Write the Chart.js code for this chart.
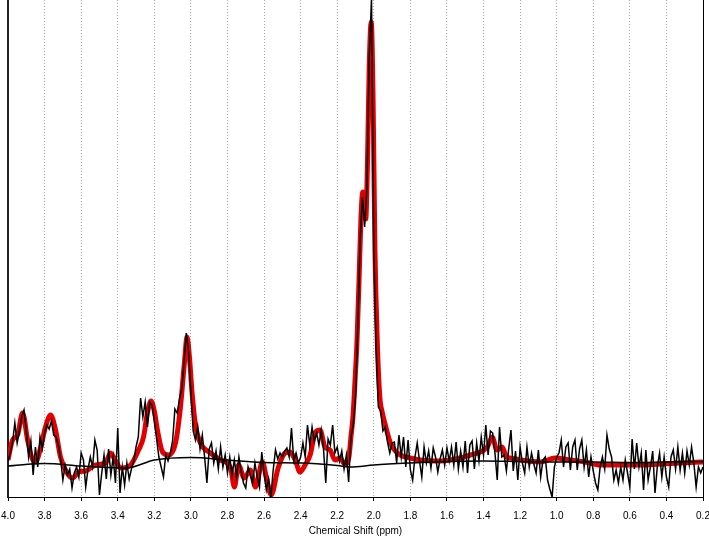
<!DOCTYPE html>
<html>
<head>
<meta charset="utf-8">
<title>MR spectrum</title>
<script src="https://cdn.jsdelivr.net/npm/chart.js@4"></script>
<style>
  html, body { margin: 0; padding: 0; background: #fff; }
  #chart { display: block; }
</style>
</head>
<body>
<canvas id="chart" width="709" height="538"></canvas>
<script>
// acquisition grid of the measured spectrum (ppm)
const spectrumStartPpm = 4.0;
const spectrumStepPpm = 0.0125;

// measured spectrum, one row per 0.2 ppm
const spectrum = [
  36, 44, 55, 74, 54, 66, 80, 87, 66, 40, 56, 22, 50, 30, 60, 48, 64, // 4.0 - 3.8
  72, 68, 76, 62, 60, 52, 38, 17, 32, 22, 28, 9, 24, 30, 20, 44,      // 3.8 - 3.6
  37, 10, 28, 40, 30, 57, 47, 2, 24, 42, 18, 48, 22, 40, 14, 69,      // 3.6 - 3.4
  4, 30, 12, 34, 18, 28, 36, 50, 60, 99, 80, 95, 70, 95, 92, 76,      // 3.4 - 3.2
  58, 40, 30, 20, 42, 36, 44, 56, 88, 84, 98, 108, 135, 164, 145, 105, // 3.2 - 3.0
  66, 57, 70, 48, 62, 40, 14, 48, 54, 34, 46, 28, 50, 30, 42, 24,     // 3.0 - 2.8
  40, 22, 37, 20, 40, 26, 14, 9, 30, 22, 14, 34, 20, 10, 45, 24,      // 2.8 - 2.6
  7, 18, 0, 27, 47, 38, 44, 40, 46, 49, 40, 69, 36, 44, 34, 40,       // 2.6 - 2.4
  54, 40, 72, 52, 70, 56, 64, 52, 67, 48, 14, 58, 52, 72, 44, 50,     // 2.4 - 2.2
  36, 46, 28, 42, 15, 60, 72, 100, 170, 255, 300, 270, 310, 440, 498, 250, // 2.2 - 2.0
  150, 90, 86, 66, 70, 55, 44, 54, 55, 34, 62, 40, 60, 30, 57, 27,    // 2.0 - 1.8
  17, 40, 54, 36, 20, 50, 34, 46, 29, 49, 40, 25, 38, 47, 32, 49,     // 1.8 - 1.6
  36, 50, 32, 55, 28, 46, 30, 56, 24, 52, 56, 28, 54, 36, 60, 42,     // 1.6 - 1.4
  72, 42, 66, 64, 44, 17, 70, 40, 42, 26, 48, 67, 26, 46, 17, 50,     // 1.4 - 1.2
  34, 24, 50, 30, 44, 33, 24, 47, 20, 37, 40, 17, 8, 0, 30, 40,       // 1.2 - 1.0
  44, 57, 30, 50, 54, 27, 50, 57, 27, 48, 57, 30, 47, 20, 40, 26,     // 1.0 - 0.8
  14, 7, 30, 40, 28, 62, 48, 40, 17, 27, 14, 30, 17, 37, 24, 10,      // 0.8 - 0.6
  58, 28, 54, 30, 44, 7, 47, 17, 30, 46, 4, 30, 44, 20, 40, 20,       // 0.6 - 0.4
  10, 40, 47, 28, 50, 27, 44, 24, 46, 32, 50, 34, 10, 30, 24, 30      // 0.4 - 0.2
];

// fitted model
const fitPpm = [
  4.000, 3.975, 3.948, 3.920, 3.893, 3.871, 3.849, 3.822, 3.795, 3.767,
  3.740, 3.713, 3.680, 3.647, 3.614, 3.576, 3.521, 3.467, 3.439, 3.412,
  3.385, 3.330, 3.286, 3.259, 3.237, 3.218, 3.199, 3.183, 3.155, 3.122,
  3.084, 3.057, 3.035, 3.021, 3.008, 2.994, 2.975, 2.948, 2.893, 2.838,
  2.783, 2.762, 2.740, 2.708, 2.675, 2.647, 2.609, 2.587, 2.561, 2.523,
  2.485, 2.458, 2.430, 2.403, 2.376, 2.348, 2.321, 2.294, 2.267, 2.239,
  2.212, 2.185, 2.158, 2.136, 2.125, 2.114, 2.103, 2.092, 2.081, 2.070,
  2.060, 2.051, 2.044, 2.035, 2.025, 2.014, 2.004, 1.994, 1.980, 1.967,
  1.953, 1.937, 1.909, 1.882, 1.855, 1.800, 1.745, 1.636, 1.527, 1.473,
  1.418, 1.379, 1.353, 1.326, 1.298, 1.275, 1.254, 1.199, 1.090, 1.008,
  0.926, 0.844, 0.762, 0.653, 0.543, 0.434, 0.325, 0.200
];
const fitIntensity = [
  37, 57, 62, 84, 57, 40, 35, 49, 70, 82,
  67, 40, 25, 19, 25, 26, 32, 34, 44, 36,
  29, 32, 47, 60, 85, 96, 85, 67, 45, 42,
  54, 90, 135, 160, 140, 105, 72, 54, 44, 37,
  29, 10, 32, 19, 27, 10, 35, 19, 2, 29,
  44, 45, 37, 25, 32, 42, 64, 67, 50, 47,
  37, 39, 33, 40, 60, 80, 115, 155, 215, 280,
  305, 285, 278, 330, 430, 475, 400, 250, 150, 100,
  84, 72, 54, 46, 42, 39, 37, 36, 39, 42,
  45, 50, 60, 47, 50, 40, 39, 37, 35, 39,
  37, 35, 32, 32, 32, 33, 34, 35
];

// baseline
const baselinePpm = [4.0, 3.8, 3.6, 3.45, 3.35, 3.2, 3.0, 2.8, 2.6, 2.4, 2.2, 2.13, 2.0, 1.8, 1.6, 1.4, 1.2, 1.0, 0.8, 0.6, 0.4, 0.2];
const baselineIntensity = [31, 33.5, 31, 29.5, 29, 37, 39.5, 37, 34.5, 34, 31.5, 30, 32, 34, 35.5, 36, 35.5, 35, 35, 34.5, 35, 35.5];

// axis ticks
const ppmTicks = [4.0, 3.8, 3.6, 3.4, 3.2, 3.0, 2.8, 2.6, 2.4, 2.2, 2.0, 1.8, 1.6, 1.4, 1.2, 1.0, 0.8, 0.6, 0.4, 0.2];

const spectrumPoints = spectrum.map((v, i) => ({ x: spectrumStartPpm - i * spectrumStepPpm, y: v }));
const fitPoints = fitPpm.map((p, i) => ({ x: p, y: fitIntensity[i] }));
const baselinePoints = baselinePpm.map((p, i) => ({ x: p, y: baselineIntensity[i] }));

const FONT = "'Liberation Sans', Arial, sans-serif";

new Chart(document.getElementById('chart'), {
  type: 'line',
  data: {
    datasets: [
      {
        label: 'Spectrum',
        data: spectrumPoints,
        borderColor: '#000',
        borderWidth: 1.5,
        pointRadius: 0,
        tension: 0,
        order: 0
      },
      {
        label: 'Baseline',
        data: baselinePoints,
        borderColor: '#000',
        borderWidth: 1.5,
        pointRadius: 0,
        cubicInterpolationMode: 'monotone',
        order: 1
      },
      {
        label: 'Fit',
        data: fitPoints,
        borderColor: 'rgb(228,0,0)',
        borderWidth: 5,
        pointRadius: 0,
        cubicInterpolationMode: 'monotone',
        order: 2
      }
    ]
  },
  options: {
    responsive: false,
    animation: false,
    layout: { padding: { left: 8, right: 6, top: 0, bottom: 0 } },
    plugins: {
      legend: { display: false },
      tooltip: { enabled: false }
    },
    scales: {
      x: {
        type: 'linear',
        reverse: true,
        min: 0.2,
        max: 4.0,
        afterBuildTicks: (scale) => {
          scale.ticks = ppmTicks.map(v => ({ value: v }));
        },
        afterFit: (scale) => {
          scale.height = 41;
          scale.paddingLeft = 0;
          scale.paddingRight = 0;
        },
        ticks: {
          color: '#000',
          font: { family: FONT, size: 10 },
          padding: 9,
          maxRotation: 0,
          autoSkip: false,
          callback: (v) => v.toFixed(1)
        },
        grid: {
          color: '#a8a8a8',
          lineWidth: 1,
          drawTicks: true,
          tickLength: 4,
          tickColor: '#000'
        },
        border: {
          display: true,
          color: '#000',
          width: 1,
          dash: [1, 2]
        },
        title: {
          display: true,
          text: 'Chemical Shift (ppm)',
          color: '#000',
          font: { family: FONT, size: 10 },
          padding: { top: 0, bottom: 1 }
        }
      },
      y: {
        position: 'left',
        min: 0,
        max: 497,
        ticks: { display: false },
        grid: { display: false },
        border: { display: true, color: '#222', width: 2 },
        afterFit: (scale) => { scale.width = 0; }
      },
      yRight: {
        position: 'right',
        min: 0,
        max: 497,
        ticks: { display: false },
        grid: { display: false },
        border: { display: true, color: '#000', width: 1 },
        afterFit: (scale) => { scale.width = 0; }
      }
    }
  }
});
</script>
</body>
</html>
